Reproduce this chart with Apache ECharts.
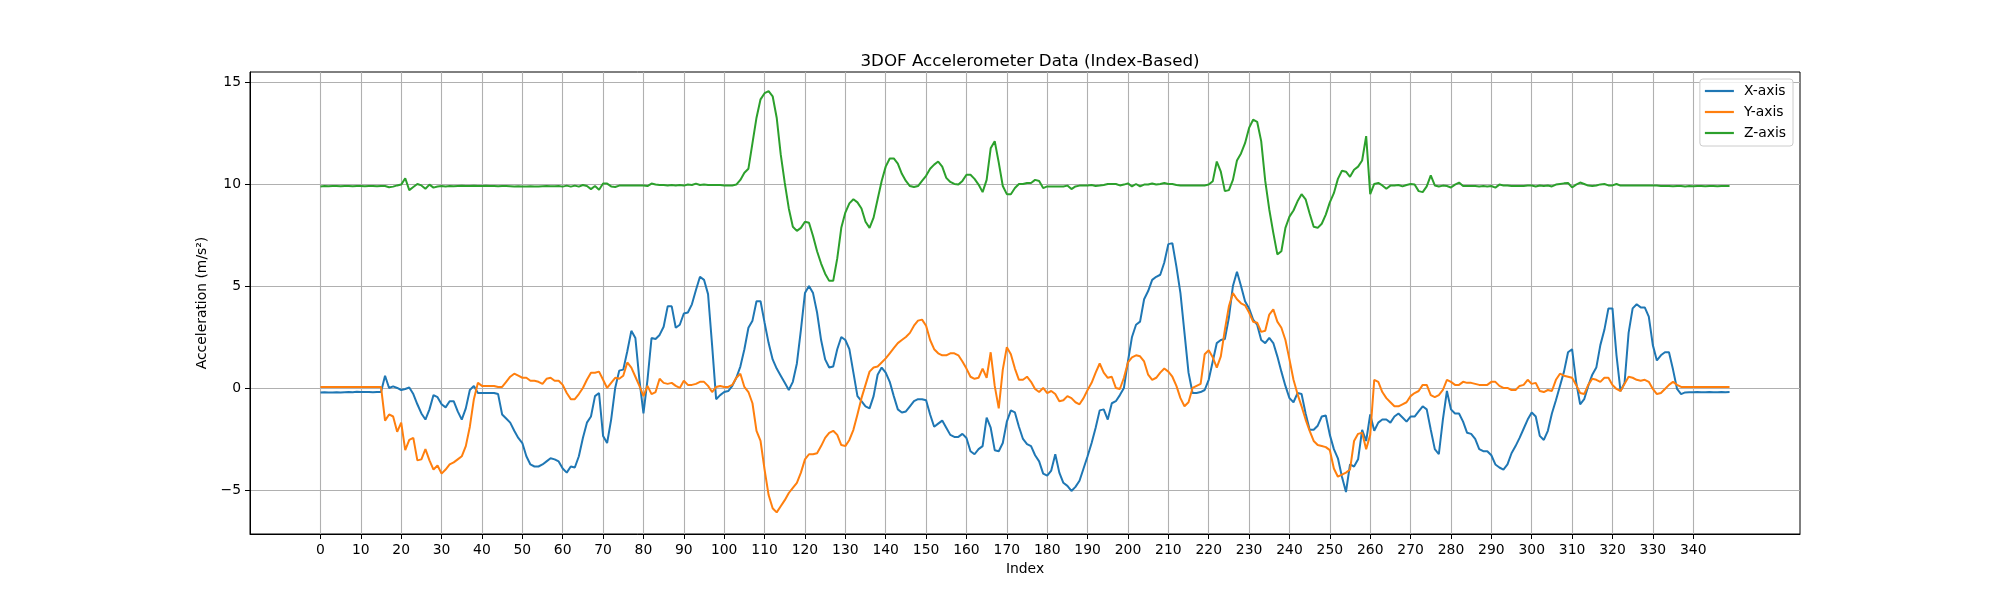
<!DOCTYPE html>
<html lang="en">
<head>
  <meta charset="UTF-8">
  <title>3DOF Accelerometer Data (Index-Based)</title>
  <script src="https://cdn.jsdelivr.net/npm/echarts@6/dist/echarts.min.js"></script>
  <style>
    html, body { margin: 0; padding: 0; background: #fff; }
  </style>
</head>
<body>
  <!-- Chart container -->
  <div id="main" style="width: 2000px; height: 600px;"></div>

  <script>
    // Accelerometer readings, one value per sample index (0..349)
    const xAxisData = [
      -0.22,-0.21,-0.22,-0.22,-0.21,-0.22,-0.21,-0.20,-0.21,-0.19,
      -0.20,-0.20,-0.20,-0.21,-0.20,-0.20,0.60,0.00,0.08,0.00,
      -0.10,-0.05,0.02,-0.30,-0.80,-1.25,-1.55,-1.05,-0.35,-0.45,
      -0.80,-0.95,-0.65,-0.65,-1.15,-1.55,-1.00,-0.10,0.10,-0.25,
      -0.25,-0.25,-0.25,-0.25,-0.30,-1.30,-1.50,-1.70,-2.10,-2.45,
      -2.70,-3.35,-3.75,-3.85,-3.85,-3.75,-3.60,-3.45,-3.50,-3.60,
      -3.95,-4.15,-3.85,-3.90,-3.35,-2.45,-1.70,-1.40,-0.40,-0.25,
      -2.35,-2.70,-1.55,0.00,0.85,0.90,1.80,2.80,2.45,0.40,
      -1.25,0.40,2.45,2.40,2.60,3.00,4.00,4.00,2.95,3.10,
      3.65,3.70,4.10,4.80,5.45,5.30,4.60,2.10,-0.55,-0.35,
      -0.20,-0.15,0.10,0.50,1.05,1.90,2.95,3.30,4.25,4.25,
      3.20,2.20,1.40,0.95,0.60,0.25,-0.10,0.30,1.20,2.85,
      4.65,5.00,4.65,3.70,2.35,1.40,1.00,1.05,1.90,2.50,
      2.35,1.90,0.75,-0.40,-0.65,-0.90,-1.00,-0.40,0.65,1.00,
      0.75,0.30,-0.40,-1.05,-1.20,-1.15,-0.90,-0.65,-0.55,-0.55,
      -0.60,-1.30,-1.90,-1.75,-1.60,-1.95,-2.30,-2.40,-2.40,-2.25,
      -2.45,-3.10,-3.25,-3.00,-2.85,-1.45,-1.95,-3.05,-3.10,-2.70,
      -1.65,-1.10,-1.20,-1.90,-2.50,-2.75,-2.85,-3.30,-3.60,-4.20,
      -4.30,-4.05,-3.25,-4.15,-4.65,-4.80,-5.05,-4.85,-4.55,-3.95,
      -3.35,-2.70,-1.95,-1.10,-1.05,-1.55,-0.75,-0.65,-0.35,0.00,
      1.30,2.50,3.10,3.25,4.35,4.75,5.30,5.45,5.55,6.15,
      7.05,7.10,5.95,4.65,2.70,0.75,-0.25,-0.25,-0.20,-0.10,
      0.40,1.30,2.20,2.35,2.40,3.45,5.00,5.70,5.00,4.25,
      3.90,3.35,3.10,2.35,2.20,2.45,2.20,1.55,0.80,0.10,
      -0.50,-0.70,-0.25,-0.30,-1.25,-2.05,-2.05,-1.85,-1.40,-1.35,
      -2.30,-3.00,-3.45,-4.35,-5.10,-3.75,-3.85,-3.50,-2.05,-2.60,
      -1.30,-2.10,-1.70,-1.55,-1.55,-1.70,-1.40,-1.25,-1.45,-1.65,
      -1.40,-1.40,-1.15,-0.90,-1.05,-2.05,-3.00,-3.25,-1.55,-0.15,
      -1.05,-1.25,-1.25,-1.65,-2.20,-2.25,-2.50,-3.00,-3.10,-3.10,
      -3.30,-3.75,-3.90,-4.00,-3.75,-3.20,-2.85,-2.45,-2.00,-1.55,
      -1.20,-1.40,-2.35,-2.55,-2.10,-1.25,-0.60,0.10,0.80,1.75,
      1.90,0.30,-0.80,-0.55,0.10,0.65,1.00,2.10,2.85,3.90,
      3.90,1.60,-0.15,0.25,2.70,3.90,4.10,3.95,3.95,3.50,
      2.10,1.35,1.60,1.75,1.75,0.90,-0.05,-0.30,-0.22,-0.21,
      -0.21,-0.20,-0.21,-0.21,-0.20,-0.21,-0.21,-0.20,-0.21,-0.20
    ];

    const yAxisData = [
      0.05,0.05,0.05,0.05,0.05,0.05,0.05,0.05,0.05,0.05,
      0.05,0.05,0.05,0.05,0.05,0.05,-1.60,-1.30,-1.40,-2.15,
      -1.70,-3.05,-2.55,-2.45,-3.55,-3.50,-3.00,-3.55,-4.00,-3.80,
      -4.20,-4.00,-3.75,-3.65,-3.50,-3.35,-2.85,-1.90,-0.55,0.25,
      0.10,0.10,0.10,0.10,0.05,0.05,0.30,0.55,0.70,0.60,
      0.50,0.50,0.35,0.35,0.30,0.20,0.45,0.50,0.35,0.35,
      0.15,-0.25,-0.55,-0.55,-0.30,0.00,0.40,0.75,0.75,0.80,
      0.40,0.00,0.25,0.50,0.45,0.60,1.25,1.00,0.55,0.10,
      -0.40,0.10,-0.30,-0.20,0.45,0.25,0.20,0.25,0.10,0.00,
      0.35,0.15,0.15,0.20,0.30,0.30,0.10,-0.20,0.05,0.10,
      0.05,0.05,0.15,0.50,0.70,0.05,-0.20,-0.75,-2.10,-2.60,
      -4.00,-5.25,-5.90,-6.10,-5.80,-5.50,-5.15,-4.90,-4.65,-4.15,
      -3.50,-3.25,-3.25,-3.20,-2.85,-2.45,-2.20,-2.10,-2.30,-2.80,
      -2.85,-2.55,-2.05,-1.30,-0.50,0.15,0.80,1.00,1.05,1.25,
      1.45,1.70,1.95,2.20,2.35,2.50,2.70,3.05,3.30,3.35,
      3.05,2.35,1.90,1.70,1.60,1.60,1.70,1.70,1.60,1.30,
      0.95,0.55,0.45,0.50,0.95,0.50,1.75,0.10,-1.00,0.90,
      2.00,1.65,0.95,0.40,0.40,0.55,0.30,-0.05,-0.20,0.00,
      -0.25,-0.15,-0.30,-0.65,-0.60,-0.40,-0.50,-0.70,-0.80,-0.50,
      -0.10,0.25,0.75,1.20,0.75,0.50,0.55,0.00,-0.05,0.50,
      1.25,1.50,1.60,1.55,1.30,0.65,0.40,0.50,0.75,0.95,
      0.80,0.55,0.10,-0.50,-0.90,-0.70,0.00,0.10,0.20,1.65,
      1.85,1.50,1.00,1.55,2.85,4.00,4.65,4.35,4.15,4.05,
      3.70,3.25,3.20,2.75,2.80,3.60,3.85,3.25,2.95,2.35,
      1.40,0.40,-0.30,-0.90,-1.55,-2.10,-2.60,-2.80,-2.85,-2.90,
      -3.05,-3.95,-4.35,-4.25,-4.15,-4.00,-2.60,-2.25,-2.20,-3.00,
      -2.30,0.40,0.30,-0.20,-0.50,-0.70,-0.90,-0.90,-0.80,-0.70,
      -0.40,-0.25,-0.15,0.15,0.15,-0.35,-0.45,-0.35,-0.10,0.40,
      0.30,0.15,0.15,0.30,0.25,0.25,0.20,0.15,0.15,0.15,
      0.30,0.30,0.10,0.00,0.00,-0.10,-0.10,0.10,0.15,0.40,
      0.20,0.25,-0.15,-0.20,-0.10,-0.15,0.40,0.70,0.60,0.55,
      0.50,0.15,-0.25,-0.30,0.15,0.45,0.40,0.30,0.50,0.50,
      0.15,-0.05,-0.15,0.20,0.55,0.50,0.40,0.35,0.40,0.30,
      -0.05,-0.30,-0.25,-0.05,0.15,0.30,0.15,0.05,0.05,0.05,
      0.05,0.05,0.05,0.05,0.05,0.05,0.05,0.05,0.05,0.05
    ];

    const zAxisData = [
      9.88,9.90,9.89,9.90,9.90,9.89,9.90,9.90,9.89,9.90,
      9.90,9.89,9.90,9.90,9.89,9.90,9.90,9.84,9.87,9.93,
      9.97,10.28,9.70,9.85,10.00,9.93,9.77,9.97,9.82,9.88,
      9.90,9.88,9.90,9.89,9.90,9.91,9.90,9.90,9.91,9.90,
      9.90,9.91,9.90,9.90,9.89,9.90,9.90,9.89,9.88,9.89,
      9.88,9.88,9.89,9.88,9.88,9.89,9.90,9.89,9.89,9.90,
      9.87,9.92,9.87,9.92,9.87,9.95,9.90,9.75,9.90,9.72,
      10.02,10.02,9.88,9.85,9.92,9.93,9.92,9.93,9.92,9.92,
      9.93,9.90,10.02,9.97,9.95,9.95,9.93,9.95,9.93,9.95,
      9.92,9.97,9.95,10.02,9.95,9.97,9.95,9.95,9.95,9.95,
      9.93,9.93,9.93,9.97,10.20,10.55,10.75,12.00,13.25,14.15,
      14.45,14.55,14.30,13.25,11.45,10.05,8.80,7.90,7.70,7.85,
      8.15,8.10,7.45,6.70,6.10,5.60,5.25,5.25,6.35,7.85,
      8.60,9.05,9.25,9.10,8.80,8.15,7.85,8.35,9.25,10.15,
      10.85,11.25,11.25,11.00,10.50,10.15,9.90,9.85,9.90,10.15,
      10.40,10.75,10.95,11.10,10.85,10.30,10.10,10.00,9.97,10.15,
      10.45,10.45,10.25,9.97,9.60,10.20,11.75,12.10,11.05,9.90,
      9.50,9.50,9.80,10.00,10.00,10.05,10.05,10.20,10.15,9.80,
      9.88,9.88,9.88,9.88,9.88,9.92,9.75,9.88,9.92,9.93,
      9.93,9.95,9.90,9.92,9.95,10.00,10.00,10.00,9.93,9.97,
      10.03,9.88,10.00,9.88,9.97,9.97,10.02,9.97,10.00,10.05,
      10.00,10.00,9.95,9.93,9.93,9.93,9.93,9.93,9.93,9.93,
      9.97,10.13,11.10,10.60,9.65,9.70,10.20,11.15,11.50,12.00,
      12.75,13.15,13.05,12.10,10.15,8.75,7.60,6.55,6.70,7.85,
      8.40,8.70,9.15,9.50,9.25,8.55,7.90,7.85,8.05,8.50,
      9.10,9.55,10.25,10.65,10.60,10.35,10.70,10.85,11.15,12.35,
      9.50,10.00,10.05,9.93,9.77,9.92,9.92,9.95,9.88,9.95,
      10.00,9.97,9.65,9.60,9.88,10.42,9.93,9.88,9.92,9.90,
      9.83,9.97,10.07,9.90,9.90,9.90,9.90,9.88,9.90,9.88,
      9.90,9.82,9.97,9.93,9.92,9.90,9.90,9.90,9.90,9.92,
      9.93,9.88,9.93,9.90,9.93,9.88,9.97,10.00,10.03,10.05,
      9.83,9.97,10.07,10.00,9.92,9.90,9.93,9.98,10.00,9.93,
      9.93,10.00,9.92,9.93,9.93,9.92,9.93,9.93,9.92,9.92,
      9.93,9.92,9.90,9.90,9.90,9.89,9.90,9.90,9.88,9.90,
      9.89,9.90,9.90,9.89,9.90,9.90,9.89,9.90,9.90,9.90
    ];

    // Tick positions, same as the matplotlib figure
    const xTicks = [0,10,20,30,40,50,60,70,80,90,100,110,120,130,140,150,160,170,
                    180,190,200,210,220,230,240,250,260,270,280,290,300,310,320,330,340];
    const yTicks = [-5, 0, 5, 10, 15];

    const seriesNames = ['X-axis', 'Y-axis', 'Z-axis'];
    const seriesColors = ['#1f77b4', '#ff7f0e', '#2ca02c'];

    const font = 'DejaVu Sans';
    const toPairs = arr => arr.map((v, i) => [i, v]);

    const myChart = echarts.init(document.getElementById('main'));

    const options = {
      animation: false,
      backgroundColor: '#ffffff',
      title: {
        text: '3DOF Accelerometer Data (Index-Based)',
        left: 1025,
        top: 48,
        textAlign: 'center',
        textStyle: { fontFamily: font, fontSize: 16.7, fontWeight: 'normal', color: '#000' }
      },
      legend: {
        orient: 'vertical',
        right: 207,
        top: 79,
        padding: [5, 7, 6, 5],
        icon: 'rect',
        itemWidth: 29,
        itemHeight: 2.2,
        itemGap: 7,
        backgroundColor: 'rgba(255,255,255,0.8)',
        borderColor: '#cccccc',
        borderWidth: 1,
        borderRadius: 3,
        textStyle: { fontFamily: font, fontSize: 13.9, color: '#000', padding: [0, 0, 0, 5], lineHeight: 14 },
        data: seriesNames
      },
      grid: {
        left: 250,
        right: 200,
        top: 72,
        bottom: 66,
        show: true,
        borderColor: '#000',
        borderWidth: 1,
        containLabel: false
      },
      xAxis: {
        type: 'value',
        min: -17.45,
        max: 366.45,
        name: 'Index',
        nameLocation: 'middle',
        nameGap: 28,
        nameTextStyle: { fontFamily: font, fontSize: 13.9, color: '#000' },
        axisLine: { show: true, onZero: false, lineStyle: { color: '#000', width: 1 } },
        axisTick: { show: true, length: 5, customValues: xTicks, lineStyle: { color: '#000' } },
        axisLabel: {
          customValues: xTicks,
          margin: 9,
          fontFamily: font,
          fontSize: 13.9,
          color: '#000'
        },
        splitLine: { show: true, lineStyle: { color: '#b0b0b0', width: 1.1 } }
      },
      yAxis: {
        type: 'value',
        min: -7.16,
        max: 15.49,
        name: 'Acceleration (m/s²)',
        nameLocation: 'middle',
        nameGap: 36,
        nameRotate: 90,
        nameTextStyle: { fontFamily: font, fontSize: 13.9, color: '#000' },
        axisLine: { show: true, onZero: false, lineStyle: { color: '#000', width: 1 } },
        axisTick: { show: true, length: 5, customValues: yTicks, lineStyle: { color: '#000' } },
        axisLabel: {
          customValues: yTicks,
          margin: 9,
          fontFamily: font,
          fontSize: 13.9,
          color: '#000',
          formatter: v => String(v).replace('-', '\u2212')
        },
        splitLine: { show: true, lineStyle: { color: '#b0b0b0', width: 1.1 } }
      },
      series: [xAxisData, yAxisData, zAxisData].map((arr, k) => ({
        name: seriesNames[k],
        type: 'line',
        data: toPairs(arr),
        symbol: 'none',
        color: seriesColors[k],
        lineStyle: { color: seriesColors[k], width: 2 }
      }))
    };

    myChart.setOption(options);
  </script>
</body>
</html>
